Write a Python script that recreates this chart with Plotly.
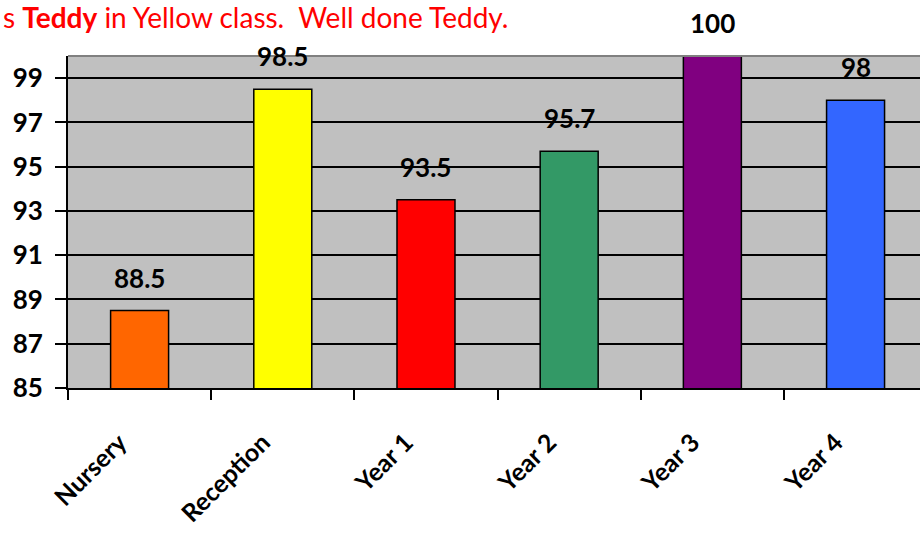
import plotly.graph_objects as go

categories = ["Nursery", "Reception", "Year 1", "Year 2", "Year 3", "Year 4"]
values = [88.5, 98.5, 93.5, 95.7, 100, 98]
colors = ["#FF6600", "#FFFF00", "#FF0000", "#339966", "#800080", "#3366FF"]
labels = ["88.5", "98.5", "93.5", "95.7", "100", "98"]
y_ticks = [85, 87, 89, 91, 93, 95, 97, 99]

FONT = "Lato, 'Open Sans', sans-serif"

fig = go.Figure()
fig.add_trace(go.Bar(
    x=categories, y=values, width=0.405,
    marker=dict(color=colors, line=dict(color="black", width=1.5)),
    hoverinfo="skip",
))

for c, v, t in zip(categories, values, labels):
    fig.add_annotation(x=c, y=v, text=f"<b>{t}</b>", showarrow=False,
                       yanchor="middle", yshift=33,
                       font=dict(family=FONT, size=26, color="black"))

fig.add_annotation(xref="paper", yref="paper", x=0, y=1, xanchor="left", yanchor="middle",
                   xshift=-67, yshift=39,
                   text="s <b>Teddy</b> in Yellow class.  Well done Teddy.",
                   showarrow=False, font=dict(family=FONT, size=28, color="#FF0000"))

fig.update_layout(
    width=920, height=535,
    margin=dict(l=68, r=0, t=56, b=147, pad=0),
    paper_bgcolor="white", plot_bgcolor="#C0C0C0",
    showlegend=False, bargap=0.6,
    xaxis=dict(
        range=[-0.5, 5.45], type="category", automargin=False,
        showline=True, linecolor="black", linewidth=2,
        ticks="outside", tickson="boundaries", ticklen=10, tickcolor="black", tickwidth=1.5,
        tickangle=-45, ticklabelstandoff=28, ticklabelshift=-20,
        tickfont=dict(family=FONT, size=25, color="black"),
        showgrid=False,
    ),
    yaxis=dict(
        range=[85, 100], tickvals=y_ticks, automargin=False,
        ticktext=[f"<b>{t}</b>" for t in y_ticks],
        showline=True, linecolor="black", linewidth=2,
        ticks="outside", ticklen=11, tickcolor="black", tickwidth=1.5,
        ticklabelstandoff=7,
        showgrid=True, gridcolor="black", gridwidth=1.5,
        tickfont=dict(family=FONT, size=26, color="black"),
        zeroline=False,
    ),
)
fig.update_xaxes(ticktext=[f"<b>{c}</b>" for c in categories], tickvals=categories)
fig.add_shape(type="line", xref="paper", yref="paper", x0=0, x1=1, y0=1, y1=1,
              line=dict(color="#808080", width=2))

fig.write_html("out.html", config={"displayModeBar": False},
               post_script="document.body.style.margin='0';document.body.style.overflow='hidden';")
